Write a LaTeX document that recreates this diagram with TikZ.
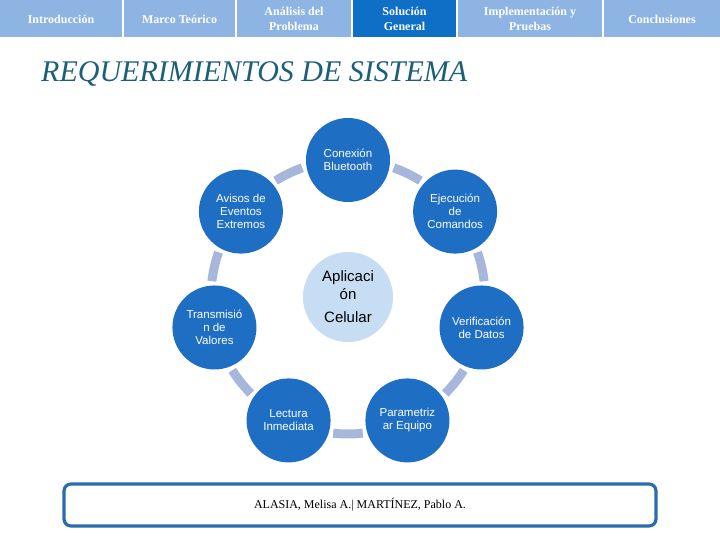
\documentclass[tikz,border=0pt]{standalone}
\usepackage{fontspec}
\setmainfont{Liberation Serif}
\newfontfamily\arialf{Liberation Sans}
\usetikzlibrary{calc}
\definecolor{tablight}{HTML}{8DB4E2}
\definecolor{tabdark}{HTML}{0F6FC6}
\definecolor{circblue}{HTML}{1E6EC4}
\definecolor{centerblue}{HTML}{C6DDF4}
\definecolor{ringc}{HTML}{A7B6DB}
\definecolor{titlec}{HTML}{1D5E78}
\definecolor{boxc}{HTML}{2B6CAE}
\tikzset{
  tab/.style={draw=none, text=white, font=\bfseries\fontsize{12}{15}\selectfont, align=center, inner sep=0pt},
  circnode/.style={circle, fill=circblue, minimum size=84pt, inner sep=0pt, text=white, align=center, font=\arialf\fontsize{11.5}{13}\selectfont},
  ringarc/.style={draw=ringc, line width=9pt},
}
\begin{document}
\begin{tikzpicture}[x=1pt,y=1pt]
\useasboundingbox (0,0) rectangle (720,540);
\fill[white] (0,0) rectangle (720,540);
% tabs
\fill[tablight] (0,503) rectangle (122,540);
\fill[tablight] (124,503) rectangle (235,540);
\fill[tablight] (237,503) rectangle (351,540);
\fill[tabdark] (353,503) rectangle (456,540);
\fill[tablight] (458,503) rectangle (602,540);
\fill[tablight] (604,503) rectangle (720,540);
\node[tab] (t1) at (61,521) {Introducción};
\node[tab] (t2) at (179.5,521) {Marco Teórico};
\node[tab] (t3) at (294,521) {Análisis del\\Problema};
\node[tab] (t4) at (404.5,521) {Solución\\General};
\node[tab] (t5) at (530,521) {Implementación y\\Pruebas};
\node[tab] (t6) at (662,521) {Conclusiones};
% title
\node[anchor=base west, inner sep=0pt, text=titlec, font=\fontsize{30}{32}\selectfont\itshape] (title) at (41,458) {REQUERIMIENTOS DE SISTEMA};
% ring
\coordinate (c) at (348,243);
\foreach \i in {0,...,6}{
  \pgfmathsetmacro{\aa}{90+\i*51.4286+19.5}
  \pgfmathsetmacro{\bb}{90+(\i+1)*51.4286-19.5}
  \draw[ringarc] ($(c)+(\aa:137)$) arc[start angle=\aa, end angle=\bb, radius=137];
}
\node[circnode] (n1) at ($(c)+(90:137)$) {Conexión\\Bluetooth};
\node[circnode] (n2) at ($(c)+(141.4286:137)$) {Avisos de\\Eventos\\Extremos};
\node[circnode] (n3) at ($(c)+(192.857:137)$) {Transmisió\\n de\\Valores};
\node[circnode] (n4) at ($(c)+(244.286:137)$) {Lectura\\Inmediata};
\node[circnode] (n5) at ($(c)+(295.714:137)$) {Parametriz\\ar Equipo};
\node[circnode] (n6) at ($(c)+(347.143:137)$) {Verificación\\de Datos};
\node[circnode] (n7) at ($(c)+(38.571:137)$) {Ejecución\\de\\Comandos};
\node[circle, fill=centerblue, minimum size=90pt, inner sep=0pt, align=center, font=\arialf\fontsize{15}{18}\selectfont] (app) at (348,243) {Aplicaci\\ón\\[5pt]Celular};
% bottom box
\node[draw=boxc, line width=3.2pt, rounded corners=7pt, minimum width=592pt, minimum height=42pt, inner sep=0pt, font=\fontsize{12}{14}\selectfont] (authors) at (360,35) {ALASIA, Melisa A.| MARTÍNEZ, Pablo A.};
\end{tikzpicture}
\end{document}
